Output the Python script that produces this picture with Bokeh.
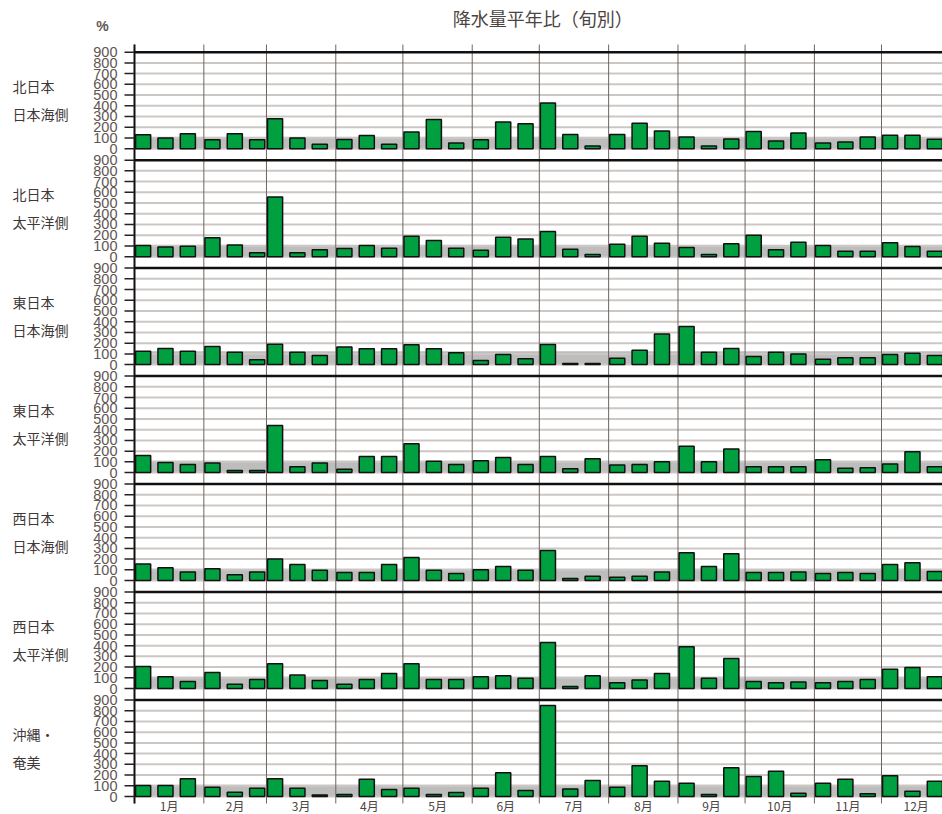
import numpy as np
from bokeh.plotting import figure
from bokeh.models import Range1d, ColumnDataSource
from bokeh.core.properties import value
from bokeh.embed import file_html
from bokeh.resources import INLINE

# ---------------- data ----------------
title_text = "降水量平年比（旬別）"
unit_text = "%"
months = ["1月", "2月", "3月", "4月", "5月", "6月", "7月", "8月", "9月", "10月", "11月", "12月"]
month_days = [31, 28, 31, 30, 31, 30, 31, 31, 30, 31, 30, 31]
region_line1 = ["北日本", "北日本", "東日本", "東日本", "西日本", "西日本", "沖縄・"]
region_line2 = ["日本海側", "太平洋側", "日本海側", "太平洋側", "日本海側", "太平洋側", "奄美"]
y_ticks = [0, 100, 200, 300, 400, 500, 600, 700, 800, 900]
normal_band_top = [110, 110, 125, 110, 110, 110, 110]

n_japan_sea = [130, 99, 140, 84, 140, 84, 280, 99, 40, 86, 123, 40,
               155, 273, 52, 84, 248, 233, 425, 133, 25, 133, 236, 164,
               108, 25, 90, 161, 71, 146, 52, 62, 108, 124, 124, 87]
n_pacific = [105, 90, 96, 177, 108, 37, 556, 37, 65, 75, 105, 78,
             190, 150, 78, 60, 180, 165, 235, 68, 20, 115, 190, 125,
             85, 20, 120, 200, 65, 135, 105, 50, 50, 130, 95, 50]
e_japan_sea = [125, 150, 125, 170, 115, 45, 190, 115, 85, 165, 148, 148,
               185, 148, 111, 39, 95, 55, 188, 10, 10, 60, 135, 285,
               355, 115, 150, 75, 115, 100, 50, 65, 65, 95, 105, 85]
e_pacific = [160, 95, 75, 90, 20, 20, 440, 55, 90, 30, 150, 150,
             270, 105, 75, 110, 140, 75, 150, 35, 130, 70, 75, 100,
             245, 100, 220, 55, 55, 55, 120, 40, 45, 80, 195, 55]
w_japan_sea = [155, 120, 80, 110, 55, 80, 200, 150, 95, 75, 75, 150,
               215, 95, 65, 100, 130, 95, 280, 20, 40, 30, 40, 80,
               260, 130, 250, 75, 75, 80, 65, 75, 65, 150, 165, 85]
w_pacific = [205, 110, 65, 150, 40, 85, 230, 125, 75, 40, 85, 140,
             230, 85, 85, 110, 120, 95, 430, 20, 120, 55, 80, 140,
             390, 95, 280, 65, 55, 60, 55, 65, 85, 180, 195, 110]
okinawa = [103, 103, 165, 87, 40, 78, 165, 78, 15, 19, 162, 65,
           78, 19, 37, 78, 221, 56, 849, 71, 149, 87, 286, 143,
           124, 19, 267, 187, 236, 31, 124, 162, 25, 193, 50, 143]
series = [n_japan_sea, n_pacific, e_japan_sea, e_pacific, w_japan_sea, w_pacific, okinawa]

# ---------------- layout constants (pixels) ----------------
W, H = 942, 814
AXIS_X = 134          # page x of Jan 1 / y axis
BASE_Y = 796          # page y of the bottom panel's 0
PX_PER_DAY = 2.2365
PX_PER_UNIT = 96.5 / 900.0
PITCH = 1007          # panel pitch in y-units (900 + gap)
TOP_Y, TICK_BOTTOM_Y = 44, 803
TITLE_Y, UNIT_Y, MONTH_LABEL_Y = 17, 25, 813
TICK_LEN, LABEL_GAP = 10, 17
REGION_X = 12
REGION_DY = 14

def ux(px):   # page x -> day units
    return (px - AXIS_X) / PX_PER_DAY

def uy(py):   # page y -> y units
    return (BASE_Y - py) / PX_PER_UNIT

X_START, X_END = ux(0), ux(W)
Y_START, Y_END = uy(H), uy(0)
n_pan = len(series)
offsets = [(n_pan - 1 - k) * PITCH for k in range(n_pan)]

month_starts = list(np.cumsum([0] + month_days[:-1]))
month_centers = [s + d / 2 for s, d in zip(month_starts, month_days)]

p = figure(width=W, height=H, output_backend="svg", toolbar_location=None,
           x_range=Range1d(X_START, X_END), y_range=Range1d(Y_START, Y_END),
           x_axis_location=None, y_axis_location=None,
           min_border=0, min_border_left=0, min_border_right=0,
           min_border_top=0, min_border_bottom=0)
p.outline_line_color = None
p.xgrid.visible = False
p.ygrid.visible = False
p.background_fill_color = "white"
p.border_fill_color = "white"

# normal band
band = ColumnDataSource(dict(bottom=offsets,
                             top=[o + t for o, t in zip(offsets, normal_band_top)]))
p.quad(left=0, right=X_END + 5, bottom="bottom", top="top", source=band,
       fill_color="#bdbdbd", line_color=None)

# horizontal grid lines
gy = [o + t for o in offsets for t in y_ticks[:-1]]
p.segment(x0=0, x1=X_END + 5, y0=gy, y1=gy, line_color="#cdc7c3", line_width=2)

# month lines
p.segment(x0=month_starts, x1=month_starts, y0=uy(TICK_BOTTOM_Y), y1=uy(TOP_Y),
          line_color="#6e6460", line_width=1)

# bars
bx, bbot, btop = [], [], []
for k, vals in enumerate(series):
    for m, ms in enumerate(month_starts):
        for d in range(3):
            bx.append(ms + d * 10 + 3.85)
            bbot.append(offsets[k])
            btop.append(offsets[k] + vals[m * 3 + d])
bars = ColumnDataSource(dict(x=bx, bottom=bbot, top=btop))
p.vbar(x="x", width=6.75, bottom="bottom", top="top", source=bars,
       fill_color="#00a040", line_color="#111111", line_width=1.5)

# top borders of panels
ty = [o + y_ticks[-1] for o in offsets]
p.segment(x0=0, x1=X_END + 5, y0=ty, y1=ty, line_color="#111111", line_width=2.5)

# y axis: line, ticks, labels
p.segment(x0=[0], x1=[0], y0=[uy(TICK_BOTTOM_Y)], y1=[uy(TOP_Y)],
          line_color="#111111", line_width=2)
yt = [o + t for o in offsets for t in y_ticks]
ylab = [str(t) for o in offsets for t in y_ticks]
p.segment(x0=-TICK_LEN / PX_PER_DAY, x1=0, y0=yt, y1=yt,
          line_color="#222222", line_width=1.5)
p.text(x=-LABEL_GAP / PX_PER_DAY, y=yt, text=ylab,
       text_font=value("Liberation Sans"), text_font_size="14.5px",
       text_color="#5e5652", text_align="right", text_baseline="middle")

# month labels
p.text(x=month_centers, y=uy(MONTH_LABEL_Y), text=months,
       text_font=value("Noto Sans CJK JP"), text_font_size="12px",
       text_color="#4a4442", text_align="center", text_baseline="bottom")

# region labels
cy = [o + 450 for o in offsets]
dy = REGION_DY / PX_PER_UNIT
p.text(x=ux(REGION_X), y=[c + dy for c in cy], text=region_line1,
       text_font=value("Noto Sans CJK JP"), text_font_size="14px",
       text_color="#3f3a38", text_align="left", text_baseline="middle")
p.text(x=ux(REGION_X), y=[c - dy for c in cy], text=region_line2,
       text_font=value("Noto Sans CJK JP"), text_font_size="14px",
       text_color="#3f3a38", text_align="left", text_baseline="middle")

# title and unit
p.text(x=[sum(month_days) / 2], y=[uy(TITLE_Y)], text=[title_text],
       text_font=value("Noto Sans CJK JP"), text_font_size="18px",
       text_color="#4a4442", text_align="center", text_baseline="middle")
p.text(x=[ux(102)], y=[uy(UNIT_Y)], text=[unit_text],
       text_font=value("Liberation Sans"), text_font_size="14px", text_font_style="bold",
       text_color="#5e5652", text_align="center", text_baseline="middle")

open("out.html", "w").write(file_html(p, INLINE))
